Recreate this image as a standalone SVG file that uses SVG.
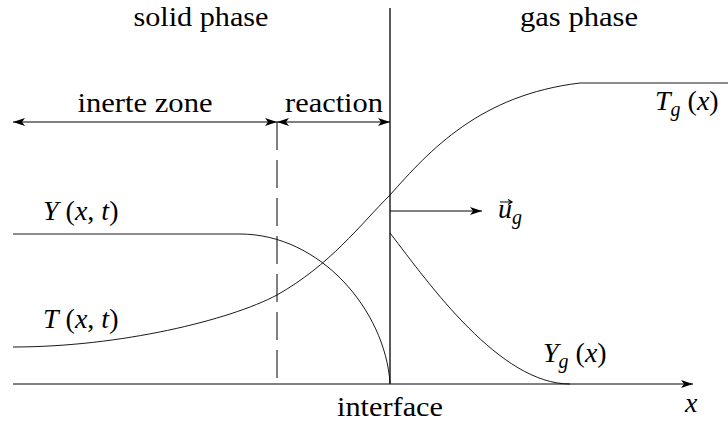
<svg xmlns="http://www.w3.org/2000/svg" width="728" height="423" viewBox="0 0 728 423">
<defs>
<marker id="ah" viewBox="0 0 12 8" refX="12" refY="4" markerWidth="12" markerHeight="8" markerUnits="userSpaceOnUse" orient="auto-start-reverse">
<path d="M0,0 L12,4 L0,8 L3,4 Z" fill="#000"/>
</marker>
</defs>
<rect width="728" height="423" fill="#fff"/>
<g id="connectors" fill="none" stroke="#000" stroke-width="1">
<line id="interface-line" x1="390" y1="8" x2="390" y2="384" stroke-width="1.3"/>
<line id="x-axis" x1="13" y1="384" x2="693" y2="384" marker-end="url(#ah)"/>
<line id="dash" x1="277" y1="122" x2="277" y2="384" stroke-dasharray="28,10"/>
<line id="inerte-arrow" x1="13" y1="122" x2="277" y2="122" marker-start="url(#ah)" marker-end="url(#ah)"/>
<line id="reaction-arrow" x1="277" y1="122" x2="390" y2="122" marker-start="url(#ah)" marker-end="url(#ah)"/>
<line id="ug-arrow" x1="390" y1="211" x2="482" y2="211" marker-end="url(#ah)"/>
<path id="T-curve" stroke-width="0.9" d="M13,347 C120,347 230,320 277,295 C330,265 360,225 390,195 C430,150 480,95 580,83 L728,83"/>
<path id="Y-curve" stroke-width="0.9" d="M13,234 L240,234 C320,234 385,310 390,383"/>
<path id="Yg-curve" stroke-width="0.9" d="M390,233 C430,285 500,384 570,384"/>
</g>
<g id="label-solid"><text font-family="Liberation Serif" font-size="28" x="201" y="26" text-anchor="middle" textLength="135" lengthAdjust="spacingAndGlyphs">solid phase</text></g>
<g id="label-gas"><text font-family="Liberation Serif" font-size="28" x="579" y="26" text-anchor="middle" textLength="118" lengthAdjust="spacingAndGlyphs">gas phase</text></g>
<g id="label-inerte"><text font-family="Liberation Serif" font-size="28" x="145" y="112" text-anchor="middle" textLength="135" lengthAdjust="spacingAndGlyphs">inerte zone</text></g>
<g id="label-reaction"><text font-family="Liberation Serif" font-size="28" x="334" y="112" text-anchor="middle" textLength="98" lengthAdjust="spacingAndGlyphs">reaction</text></g>
<g id="label-Tg"><text font-family="Liberation Serif" font-size="28" x="655" y="110"><tspan font-style="italic">T</tspan><tspan font-style="italic" font-size="20" dy="6">g</tspan><tspan dy="-6"> (</tspan><tspan font-style="italic">x</tspan>)</text></g>
<g id="label-Y"><text font-family="Liberation Serif" font-size="28" x="43" y="220"><tspan font-style="italic">Y</tspan> (<tspan font-style="italic">x</tspan>, <tspan font-style="italic">t</tspan>)</text></g>
<g id="label-T"><text font-family="Liberation Serif" font-size="28" x="43" y="328"><tspan font-style="italic">T</tspan> (<tspan font-style="italic">x</tspan>, <tspan font-style="italic">t</tspan>)</text></g>
<g id="label-ug"><text font-family="Liberation Serif" font-size="28" x="498" y="218"><tspan font-style="italic">u</tspan><tspan font-style="italic" font-size="20" dy="6">g</tspan></text>
<path d="M500,202 L511,202 M508,199.5 L512,202 L508,204.5" fill="none" stroke="#000" stroke-width="1.2"/></g>
<g id="label-Yg"><text font-family="Liberation Serif" font-size="28" x="543" y="362"><tspan font-style="italic">Y</tspan><tspan font-style="italic" font-size="20" dy="6">g</tspan><tspan dy="-6"> (</tspan><tspan font-style="italic">x</tspan>)</text></g>
<g id="label-interface"><text font-family="Liberation Serif" font-size="28" x="390" y="416" text-anchor="middle" textLength="106" lengthAdjust="spacingAndGlyphs">interface</text></g>
<g id="label-x"><text font-family="Liberation Serif" font-size="28" font-style="italic" x="685" y="412">x</text></g>
</svg>
